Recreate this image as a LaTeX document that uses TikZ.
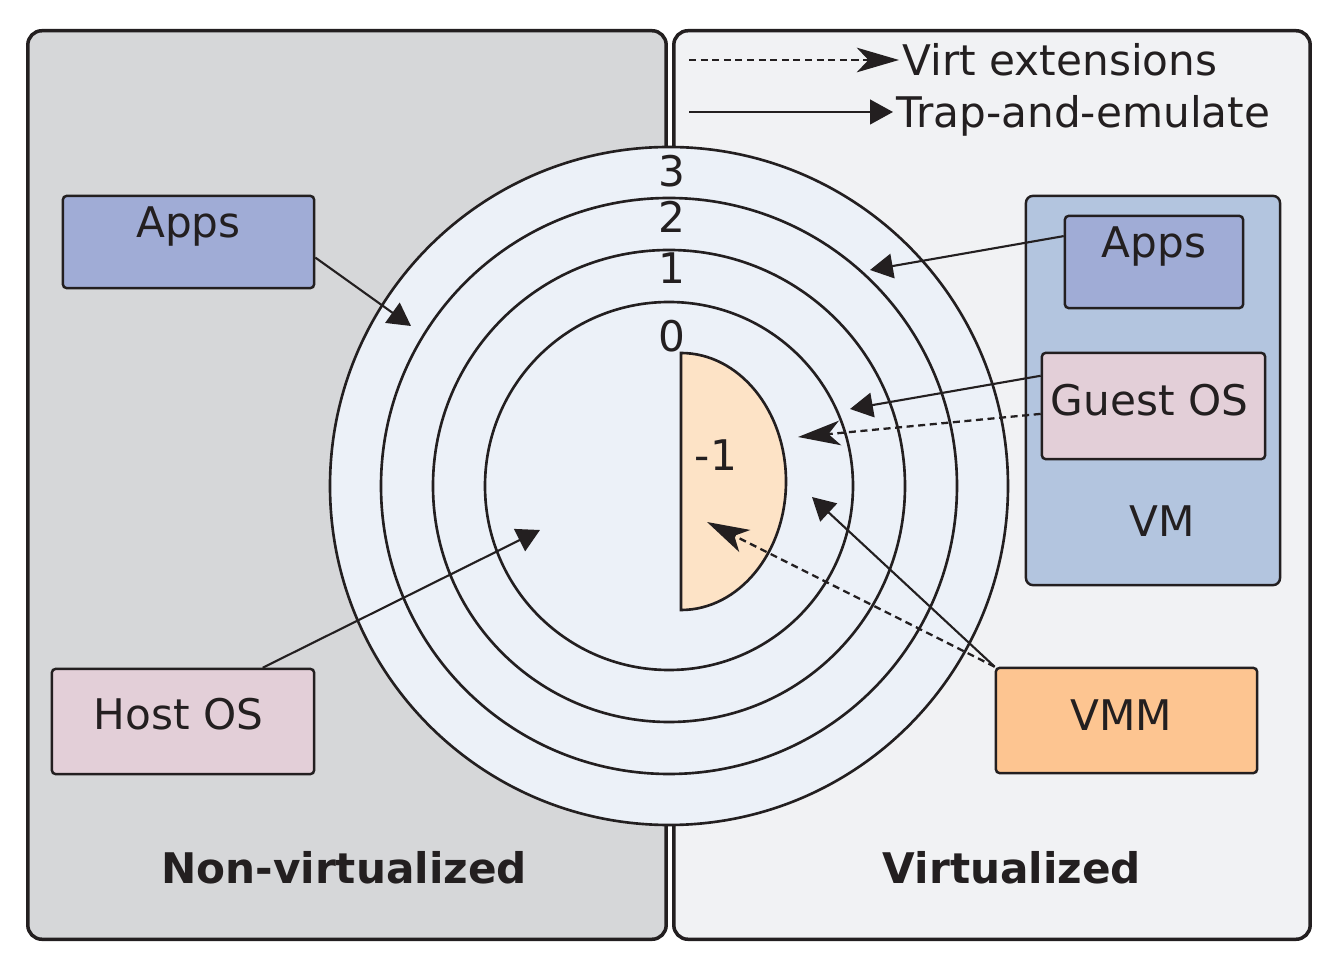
\documentclass[tikz,border=0pt]{standalone}
\usepackage{fontspec}
\setmainfont{DejaVu Sans}
\usetikzlibrary{arrows.meta}

\definecolor{ink}{HTML}{231F20}
\definecolor{hostbg}{HTML}{D6D7D9}
\definecolor{guestbg}{HTML}{F1F2F4}
\definecolor{ringfill}{HTML}{ECF1F8}
\definecolor{appfill}{HTML}{A0ACD6}
\definecolor{osfill}{HTML}{E3CFD8}
\definecolor{vmfill}{HTML}{B3C5DF}
\definecolor{vmmfill}{HTML}{FDC591}
\definecolor{hypfill}{HTML}{FDE3C6}

\begin{document}
\begin{tikzpicture}
    [
    x=0.01cm, y=-0.01cm,
    color=ink,
    font=\fontsize{12}{14}\selectfont,
    panel/.style={draw=ink,line width=1pt,rounded corners=4pt,inner sep=0pt,minimum height=9.08cm},
    box/.style={draw=ink,line width=0.7pt,rounded corners=1pt,inner sep=0pt},
    ring/.style={draw=ink,line width=0.75pt,fill=ringfill},
    key/.style={anchor=west,inner xsep=0.03cm,inner ysep=0pt,text height=0.31cm,text depth=0pt},
    trap/.style={draw=ink,line width=0.6pt,-{Triangle[length=6.5pt,width=7pt]}},
    ext/.style={draw=ink,line width=0.65pt,dash pattern=on 2pt off 1.3pt,-{Stealth[length=12pt,width=7pt,inset=3.3pt]}},
    ]
    \useasboundingbox (0,0) rectangle (1332,961);

    \node (nonvirt) [panel, fill=hostbg, minimum width=6.38cm] at (347,485) {};
    \node (virt) [panel, fill=guestbg, minimum width=6.36cm] at (992,485) {};

    \foreach \r in {339,288,236,184}
        \draw [ring] (669,486) circle [radius=\r];
    \draw [draw=ink, line width=0.75pt, fill=hypfill] (681,353) arc [start angle=-90, end angle=90, x radius=105, y radius=128.5] -- cycle;

    \node (l3) at (672,171) {3};
    \node (l2) at (672,217) {2};
    \node (l1) at (672,268) {1};
    \node (l0) at (672,336) {0};
    \node (lm1) at (716,455) {-1};

    \node (appsL) [box, fill=appfill, minimum width=2.51cm, text height=0.42cm, text depth=0.5cm] at (188.5,242) {Apps};
    \node (host) [box, fill=osfill, minimum width=2.62cm, text height=0.61cm, text depth=0.44cm] at (183,721.5) {Host OS\kern0.09cm};

    \node (vm) [box, fill=vmfill, rounded corners=2pt, minimum width=2.54cm, text height=3.40cm, text depth=0.49cm] at (1153,390.5) {\kern0.18cm VM};
    \node (appsR) [box, fill=appfill, minimum width=1.78cm, text height=0.42cm, text depth=0.5cm] at (1154,262) {Apps};
    \node (guest) [box, fill=osfill, minimum width=2.23cm, text height=0.62cm, text depth=0.44cm] at (1153.5,406) {Guest OS\kern0.08cm};
    \node (vmm) [box, fill=vmmfill, minimum width=2.61cm, text height=0.62cm, text depth=0.43cm] at (1126.5,720.5) {VMM\kern0.1cm};

    \node (nvLabel) at (344,868) {\bfseries Non-virtualized};
    \node (vLabel) at (1012,868) {\bfseries Virtualized};

    % legend
    \node (extTxt) [key] at (899,60) {Virt extensions};
    \node (trapTxt) [key] at (893,112) {Trap-and-emulate};
    \coordinate (extFrom) at (689,60);
    \coordinate (trapFrom) at (689,112);
    \draw [ext] (extFrom) -- (extTxt.west);
    \draw [trap] (trapFrom) -- (trapTxt.west);

    % arrows into the rings
    \coordinate (ringL3) at (411,326);
    \coordinate (ringL0) at (540,530);
    \coordinate (ringR3) at (870,270);
    \coordinate (ringR1) at (850,409);
    \coordinate (ringR0) at (798,437);
    \coordinate (vmmTrap) at (812,497);
    \coordinate (vmmExt) at (707,522);
    \draw [trap] (appsL.-7) -- (ringL3);
    \draw [trap] (host.34) -- (ringL0);
    \draw [trap] (appsR.164) -- (ringR3);
    \draw [trap] (guest.165) -- (ringR1);
    \draw [ext] (guest.184) -- (ringR0);
    \draw [trap] (vmm.north west) -- (vmmTrap);
    \draw [ext] (vmm.north west) -- (vmmExt);
\end{tikzpicture}
\end{document}
